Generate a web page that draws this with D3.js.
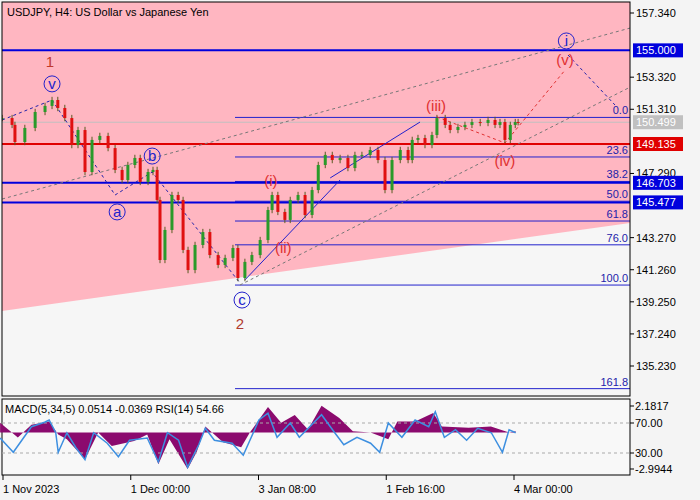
<!DOCTYPE html><html><head><meta charset="utf-8">
<script src="https://cdn.jsdelivr.net/npm/d3@7"></script>
<style>body{margin:0;background:#f4f4f4}svg{display:block}text{font-family:"Liberation Sans",Arial,sans-serif;font-size:11px}</style></head><body>
<svg id="c" width="700" height="500"></svg>
<script>
const days=[-0.2,2.2,2.9,5.3,7.8,10.2,11.9,13.3,15.0,16.7,18.2,19.9,21.6,23.5,25.5,27.2,28.9,30.3,32.0,33.3,35.2,36.4,37.4,38.1,39.3,41.0,42.5,43.7,44.9,46.6,48.5,50.2,52.2,53.9,55.8,57.0,58.7,60.4,62.4,64.3,65.3,66.7,68.4,69.7,71.6,73.3,75.0,76.5,78.2,79.9,81.8,83.7,85.4,87.1,89.1,91.0,92.7,94.4,96.4,98.3,99.3,100.7,102.4,104.1,105.3,107.3,108.5,110.4,112.1,113.8,115.8,117.7,119.4,120.6,121.8,123.1,124.3,125.0];
const closes=[150.76,150.33,149.26,150.14,151.14,151.52,151.89,151.39,150.76,149.07,150.01,147.38,149.39,149.64,148.88,147.51,146.88,147.82,148.26,146.76,147.38,147.51,145.63,141.87,143.75,145.94,145.63,142.50,141.24,142.81,143.62,142.18,141.56,142.00,142.62,140.74,141.75,142.18,143.12,145.00,145.94,144.88,144.38,145.63,145.94,144.69,146.25,147.82,148.45,148.13,148.26,147.63,148.45,148.45,148.76,148.13,146.25,148.13,148.76,148.13,149.39,149.51,149.07,149.70,150.76,150.33,150.01,150.20,150.33,150.51,150.45,150.64,150.33,150.51,149.39,150.33,150.51,150.50];
const priceTicks=[157.340,153.320,151.310,147.290,143.270,141.260,139.250,137.240,135.230];
const levels=[{p:155.000,c:"#0000dd",box:"#0000dd",w:2},{p:149.135,c:"#e00000",box:"#e00000",w:2},{p:146.703,c:"#0000dd",box:"#0000dd",w:2},{p:145.477,c:"#0000dd",box:"#0000dd",w:2},{p:150.499,c:"#c0c0c0",box:"#c0c0c0",w:1}];
const fibRatios=[0,23.6,38.2,50.0,61.8,76.0,100.0,161.8];
const fibHigh=150.80,fibLow=140.30,fibStartDay=56.3;
const dateTicks=[{d:0,t:"1 Nov 2023"},{d:31,t:"1 Dec 00:00"},{d:62,t:"3 Jan 08:00"},{d:93,t:"1 Feb 16:00"},{d:124,t:"4 Mar 00:00"}];
const histDays=[-0.7,3.6,6.9,11.2,13.4,15.5,19.9,23.1,26.4,31.8,35.0,37.7,40.4,44.8,47.0,49.1,53.4,57.8,59.9,64.3,67.5,70.8,74.0,77.3,81.6,84.9,89.2,93.5,95.7,100.0,104.4,106.5,113.0,118.4,122.8,124.4];
const histVals=[0.8,-0.4,0.65,0.9,-0.15,-0.55,-2.2,0,-1.1,-0.7,-0.15,-2.6,-0.55,-3.0,-1.6,0.5,-0.8,-1.2,0,2.1,0.8,1.45,0.25,2.2,1.2,0.1,0,-0.55,0.9,0.9,1.6,0.5,0.4,0.5,0,0.1];
const rsiDays=[-0.7,2.5,6.9,10.1,11.2,12.8,13.4,15.5,17.7,19.9,22.0,25.3,28.0,30.7,35.0,37.7,39.9,42.6,44.8,47.5,49.1,51.3,55.6,58.3,62.1,64.3,66.5,69.7,71.9,77.3,80.5,82.7,85.9,89.2,91.4,93.5,96.8,100.0,103.3,104.9,107.1,109.8,112.5,115.2,118.5,121.2,122.8,124.4];
const rsiVals=[50,31,65,71,74,57,31,57,37,21,57,43,25,47,50,18,57,47,11,41,63,47,43,27,74,83,51,70,51,81,57,41,51,43,31,70,51,74,65,85,51,61,47,63,57,31,61,57];
const waveLabels=[{t:"1",d:11.4,p:154.27,c:"#c0392b",circ:false},{t:"v",d:11.9,p:152.9,c:"#2222cc",circ:true},{t:"a",d:27.7,p:144.88,c:"#2222cc",circ:true},{t:"b",d:36.2,p:148.38,c:"#2222cc",circ:true},{t:"c",d:58,p:139.36,c:"#2222cc",circ:true},{t:"2",d:57.5,p:137.86,c:"#b03a2e",circ:false},{t:"(i)",d:65,p:146.82,c:"#e03030",circ:false},{t:"(ii)",d:68,p:142.62,c:"#e03030",circ:false},{t:"(iii)",d:105.1,p:151.52,c:"#e03030",circ:false},{t:"(iv)",d:121.8,p:148.07,c:"#e03030",circ:false},{t:"(v)",d:136.4,p:154.4,c:"#e03030",circ:false},{t:"i",d:136.7,p:155.59,c:"#2222cc",circ:true}];
const dashLines=[
 {pts:[[-0.2,145.69],[152.2,156.4]],c:"#777",dash:"3,3"},
 {pts:[[57.5,140.3],[152.2,152.7]],c:"#777",dash:"3,3"},
 {pts:[[-0.2,150.64],[11.9,151.89]],c:"#2222aa",dash:"3,3"},
 {pts:[[11.9,151.89],[27.2,145.94],[36.2,147.38],[57.5,140.43]],c:"#2222aa",dash:"3,3"},
 {pts:[[105.3,150.83],[121.8,149.20],[136.4,153.77]],c:"#e03030",dash:"3,3"},
 {pts:[[137.1,154.71],[148.5,151.58]],c:"#2222aa",dash:"3,3"},
 {pts:[[58.7,140.62],[81.8,146.88]],c:"#2222cc",dash:null},
 {pts:[[79.4,147.01],[101.2,150.51]],c:"#2222cc",dash:null}];
const zoneEdge=[[-0.3,138.68],[152.2,144.19]];

const svg=d3.select("#c");
const L=2,R=630,T=2,B=396;
const x=d3.scaleLinear().domain([0,124]).range([3,514]);
const y=d3.scaleLinear().domain([135.23,157.34]).range([366,13]);
const main=svg.append("g");
main.append("rect").attr("x",L).attr("y",T).attr("width",R-L).attr("height",B-T).attr("fill","#f6f6f6");
main.append("clipPath").attr("id","cp").append("rect").attr("x",L).attr("y",T).attr("width",R-L).attr("height",B-T);
const g=main.append("g").attr("clip-path","url(#cp)");
g.append("path").attr("d",`M${L},${T}L${R},${T}L${R},${y(zoneEdge[1][1])}L${L},${y(zoneEdge[0][1])}Z`).attr("fill","#ffb6c1");
// fib
fibRatios.forEach(r=>{const p=fibHigh-(fibHigh-fibLow)*r/100;
 g.append("line").attr("x1",x(fibStartDay)).attr("x2",R).attr("y1",y(p)).attr("y2",y(p)).attr("stroke","#2222cc").attr("stroke-width",1);
 svg.append("text").attr("x",R-2).attr("y",y(p)-3).attr("text-anchor","end").attr("fill","#2222aa").text(r.toFixed(1));});
levels.forEach(l=>g.append("line").attr("x1",L).attr("x2",R).attr("y1",y(l.p)).attr("y2",y(l.p)).attr("stroke",l.c).attr("stroke-width",l.w));
const line=d3.line().x(d=>x(d[0])).y(d=>y(d[1]));
dashLines.forEach(dl=>g.append("path").attr("d",line(dl.pts)).attr("fill","none").attr("stroke",dl.c).attr("stroke-width",1).attr("stroke-dasharray",dl.dash));
// candles
closes.forEach((c,i)=>{const o=i?closes[i-1]:c;const up=c>=o;const col=up?"#2a9a2a":"#e01010";
 const hi=Math.max(o,c)+0.2,lo=Math.min(o,c)-0.2;const cx=x(days[i]);
 g.append("line").attr("x1",cx).attr("x2",cx).attr("y1",y(hi)).attr("y2",y(lo)).attr("stroke","#5a5a20");
 g.append("rect").attr("x",cx-1.5).attr("width",3).attr("y",y(Math.max(o,c))).attr("height",Math.max(1,Math.abs(y(o)-y(c)))).attr("fill",col);});
// wave labels
waveLabels.forEach(w=>{const cx=x(w.d),cy=y(w.p);
 if(w.circ)g.append("circle").attr("cx",cx).attr("cy",cy).attr("r",8).attr("fill","none").attr("stroke",w.c);
 g.append("text").attr("x",cx).attr("y",cy+5).attr("text-anchor","middle").attr("fill",w.c).style("font-size","15px").text(w.t);});
main.append("rect").attr("x",L).attr("y",T).attr("width",R-L).attr("height",B-T).attr("fill","none").attr("stroke","#000");
svg.append("text").attr("x",7).attr("y",16).attr("fill","#000").text("USDJPY, H4:  US Dollar vs Japanese Yen");
// right axis
priceTicks.forEach(p=>{svg.append("line").attr("x1",R).attr("x2",R+4).attr("y1",y(p)).attr("y2",y(p)).attr("stroke","#000");
 svg.append("text").attr("x",R+6).attr("y",y(p)+4).attr("fill","#000").text(p.toFixed(3));});
levels.forEach(l=>{svg.append("rect").attr("x",R+3).attr("y",y(l.p)-7).attr("width",50).attr("height",14).attr("fill",l.box);
 svg.append("text").attr("x",R+6).attr("y",y(l.p)+4).attr("fill","#fff").text(l.p.toFixed(3));});
// indicator
const IT=399,IB=475;
const ym=d3.scaleLinear().domain([-2.9944,2.1817]).range([469,406]);
const yr=d3.scaleLinear().domain([30,70]).range([453,423]);
svg.append("rect").attr("x",L).attr("y",IT).attr("width",R-L).attr("height",IB-IT).attr("fill","#f8f8f8").attr("stroke","#000");
svg.append("path").attr("d",d3.area().x(d=>x(d[0])).y0(ym(0)).y1(d=>ym(d[1]))(histDays.map((d,i)=>[d,histVals[i]]))).attr("fill","#8b0a6e");
[70,30].forEach(v=>svg.append("line").attr("x1",L).attr("x2",R).attr("y1",yr(v)).attr("y2",yr(v)).attr("stroke","#aaa").attr("stroke-dasharray","3,3"));
svg.append("path").attr("d",d3.line().x(d=>x(d[0])).y(d=>yr(d[1]))(rsiDays.map((d,i)=>[d,rsiVals[i]]))).attr("fill","none").attr("stroke","#3d8fe0").attr("stroke-width",1.5);
svg.append("text").attr("x",5).attr("y",413).attr("fill","#000").text("MACD(5,34,5) 0.0514 -0.0369 RSI(14) 54.66");
[[2.1817,"2.1817"],[-2.9944,"-2.9944"]].forEach(([v,t])=>{svg.append("line").attr("x1",R).attr("x2",R+4).attr("y1",ym(v)).attr("y2",ym(v)).attr("stroke","#000");svg.append("text").attr("x",R+5).attr("y",ym(v)+4).text(t);});
[70,30].forEach(v=>{svg.append("line").attr("x1",R).attr("x2",R+4).attr("y1",yr(v)).attr("y2",yr(v)).attr("stroke","#000");svg.append("text").attr("x",R+5).attr("y",yr(v)+4).text(v.toFixed(2));});
dateTicks.forEach(t=>{svg.append("line").attr("x1",x(t.d)).attr("x2",x(t.d)).attr("y1",IB).attr("y2",IB+5).attr("stroke","#000");
 svg.append("text").attr("x",x(t.d)).attr("y",493).text(t.t);});
</script></body></html>
